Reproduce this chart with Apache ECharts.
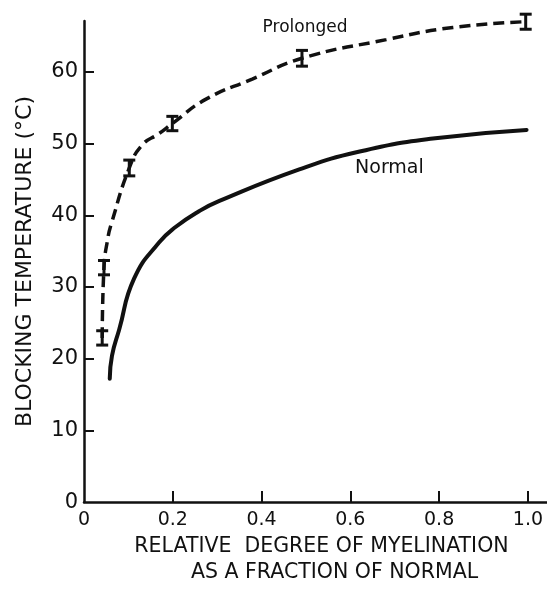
<!DOCTYPE html>
<html><head><meta charset="utf-8">
<script src="https://cdn.jsdelivr.net/npm/echarts@6/dist/echarts.min.js"></script>
<style>html,body{margin:0;padding:0;background:#fff}#c{width:547px;height:591px}</style>
</head><body><div id="c"></div>
<script>
// ---- data ----
const xTicks = [0, 0.2, 0.4, 0.6, 0.8, 1.0];
const xTickLabels = ['0', '0.2', '0.4', '0.6', '0.8', '1.0'];
const yTicks = [0, 10, 20, 30, 40, 50, 60];
const yTickLabels = ['0', '10', '20', '30', '40', '50', '60'];

const prolongedX = [0.041, 0.045, 0.054, 0.061, 0.102, 0.131, 0.169, 0.199, 0.275, 0.379, 0.491, 0.681, 0.831, 0.995];
const prolongedY = [22.9, 32.7, 36.9, 38.7, 46.6, 49.8, 51.4, 52.8, 56.2, 59.0, 61.9, 64.5, 66.2, 67.0];

const normalX = [0.058, 0.063, 0.079, 0.113, 0.169, 0.207, 0.260, 0.305, 0.485, 0.621, 0.786, 0.997];
const normalY = [17.2, 20.4, 24.0, 31.2, 36.2, 38.4, 40.6, 42.0, 46.4, 48.9, 50.7, 51.9];

const barX = [0.041, 0.045, 0.102, 0.199, 0.491, 0.995];
const barMean = [22.9, 32.7, 46.6, 52.8, 61.9, 67.0];
const barErr = [1.0, 1.0, 1.1, 1.0, 1.1, 1.05];

const seriesNames = ['Prolonged', 'Normal'];

// ---- chart ----
const FONT = 'DejaVu Sans';
const chart = echarts.init(document.getElementById('c'), null, {renderer: 'canvas'});

const zip = (xs, ys) => xs.map((x, i) => [x, ys[i]]);

const option = {
  animation: false,
  backgroundColor: '#fff',
  grid: {left: 84, right: 0, top: 21, bottom: 83, containLabel: false},
  xAxis: {
    type: 'value', min: 0, max: 1.043,
    name: 'RELATIVE  DEGREE OF MYELINATION\n    AS A FRACTION OF NORMAL',
    nameLocation: 'middle', nameGap: 30,
    nameTextStyle: {fontFamily: FONT, fontSize: 20.5, color: '#111', lineHeight: 26, padding: [0, 0, 0, 12]},
    axisLine: {show: true, lineStyle: {color: '#111', width: 2.5}},
    axisTick: {show: true, inside: true, length: 11, lineStyle: {color: '#111', width: 2}, customValues: xTicks.slice(1)},
    axisLabel: {
      show: true, margin: 8, fontFamily: FONT, fontSize: 19, color: '#111',
      customValues: xTicks,
      formatter: v => { const i = xTicks.findIndex(t => Math.abs(t - v) < 1e-6); return i >= 0 ? xTickLabels[i] : ''; }
    },
    splitLine: {show: false}
  },
  yAxis: {
    type: 'value', min: 0, max: 67.1,
    name: 'BLOCKING TEMPERATURE (°C)',
    nameLocation: 'middle', nameRotate: 90, nameGap: 48,
    nameTextStyle: {fontFamily: FONT, fontSize: 22, color: '#111'},
    axisLine: {show: true, lineStyle: {color: '#111', width: 2.5}},
    axisTick: {show: true, inside: true, length: 10, lineStyle: {color: '#111', width: 2}, customValues: yTicks.slice(1)},
    axisLabel: {
      show: true, margin: 6, fontFamily: FONT, fontSize: 21, color: '#111',
      customValues: yTicks,
      formatter: v => { const i = yTicks.findIndex(t => Math.abs(t - v) < 1e-6); return i >= 0 ? yTickLabels[i] : ''; }
    },
    splitLine: {show: false}
  },
  series: [
    {
      name: seriesNames[0], type: 'line', data: zip(prolongedX, prolongedY),
      smooth: 0.5, showSymbol: false, symbol: 'none',
      lineStyle: {color: '#111', width: 3.5, type: [11, 6], cap: 'butt'}
    },
    {
      name: seriesNames[1], type: 'line', data: zip(normalX, normalY),
      smooth: 0.5, showSymbol: false, symbol: 'none',
      lineStyle: {color: '#111', width: 4, cap: 'round'}
    },
    {
      name: 'errorbars', type: 'custom',
      data: barX.map((x, i) => [x, barMean[i] - barErr[i], barMean[i] + barErr[i]]),
      renderItem: (params, api) => {
        const x = api.value(0);
        const lo = api.coord([x, api.value(1)]);
        const hi = api.coord([x, api.value(2)]);
        const w = 6;
        const st = {stroke: '#111', lineWidth: 3};
        return {type: 'group', children: [
          {type: 'line', shape: {x1: lo[0], y1: lo[1], x2: hi[0], y2: hi[1]}, style: st},
          {type: 'line', shape: {x1: lo[0] - w, y1: lo[1], x2: lo[0] + w, y2: lo[1]}, style: st},
          {type: 'line', shape: {x1: hi[0] - w, y1: hi[1], x2: hi[0] + w, y2: hi[1]}, style: st}
        ]};
      },
      z: 3
    }
  ]
};
chart.setOption(option);

// series labels placed at data coordinates
const pPro = chart.convertToPixel({gridIndex: 0}, [0.498, 66.2]);
const pNor = chart.convertToPixel({gridIndex: 0}, [0.688, 46.6]);
chart.setOption({
  graphic: [
    {type: 'text', x: pPro[0], y: pPro[1], style: {text: seriesNames[0], font: '17px "DejaVu Sans"', fill: '#111', align: 'center', verticalAlign: 'middle'}},
    {type: 'text', x: pNor[0], y: pNor[1], style: {text: seriesNames[1], font: '19px "DejaVu Sans"', fill: '#111', align: 'center', verticalAlign: 'middle'}}
  ]
});
</script>
</body></html>
